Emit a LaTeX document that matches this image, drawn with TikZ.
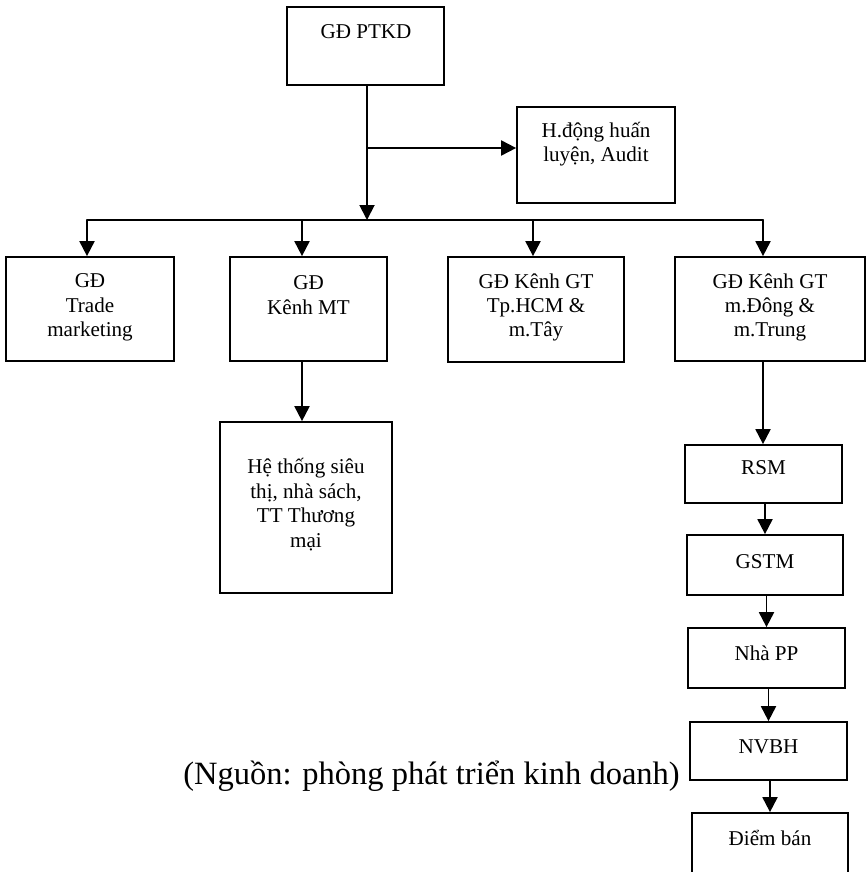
\documentclass[tikz,border=0pt]{standalone}
\usepackage{fontspec}
\setmainfont{Liberation Serif}
\usetikzlibrary{arrows.meta,positioning}
\tikzset{>={Triangle[length=3mm,width=3mm]}}

\begin{document}
\begin{tikzpicture}[x=0.02cm,y=-0.02cm,line cap=round,
  box/.style={draw,line width=1pt,inner sep=0pt},
  txt/.style={align=center,inner sep=0pt,font=\fontsize{12}{13.9}\selectfont},
  link/.style={->,line width=1.1pt}]

  \useasboundingbox (0,0) rectangle (866,872);
  \clip (0,0) rectangle (866,872);

  % top level
  \node [box,minimum width=3.14cm,minimum height=1.56cm] (ptkd) at (365.5,46) {};
  \node [txt] (ptkdT) at (366,32) {GĐ PTKD};

  \node [box,minimum width=3.16cm,minimum height=1.92cm] (hl) at (596,155) {};
  \node [txt] (hlT) at (596,144) {H.động huấn\\luyện, Audit};

  \coordinate (jA) at (367,220);
  \coordinate (jB) at (367,148);
  \draw [link] (ptkd.south -| jA) -- (jA);
  \draw [link] (jB) -- (jB -| hl.west);


  % second level
  \node [box,minimum width=3.36cm,minimum height=2.08cm] (trade) at (90,309) {};
  \node [txt] (tradeT) at (90,307.5) {GĐ\\Trade\\marketing};

  \node [box,minimum width=3.14cm,minimum height=2.08cm] (mt) at (308.5,309) {};
  \node [txt] (mtT) at (308.5,295) {GĐ\\Kênh MT};

  \node [box,minimum width=3.52cm,minimum height=2.1cm] (hcm) at (536,309.5) {};
  \node [txt] (hcmT) at (536,307.5) {GĐ Kênh GT\\Tp.HCM \&\\m.Tây};

  \node [box,minimum width=3.8cm,minimum height=2.08cm] (dong) at (770,309) {};
  \node [txt] (dongT) at (770,307.5) {GĐ Kênh GT\\m.Đông \&\\m.Trung};

  \coordinate (b1) at (87,220);
  \coordinate (b2) at (302,220);
  \coordinate (b3) at (533,220);
  \coordinate (b4) at (763,220);
  \draw [line width=1.1pt] (b1) -- (b4);
  \foreach \b/\n in {b1/trade,b2/mt,b3/hcm,b4/dong}
    \draw [link] (\b) -- (\b |- \n.north);


  % MT channel
  \node [box,minimum width=3.44cm,minimum height=3.42cm] (sieuthi) at (306,507.5) {};
  \node [txt] (sieuthiT) at (306,504.5) {Hệ thống siêu\\thị, nhà sách,\\TT Thương\\mại};
  \draw [link] (mt.south -| b2) -- (sieuthi.north -| b2);


  % GT channel
  \node [box,minimum width=3.14cm,minimum height=1.16cm] (rsm) at (763.5,474) {};
  \node [txt] (rsmT) at (763.5,468) {RSM};
  \node [box,minimum width=3.12cm,minimum height=1.2cm] (gstm) at (765,565) {};
  \node [txt] (gstmT) at (765,562) {GSTM};
  \node [box,minimum width=3.14cm,minimum height=1.2cm] (npp) at (766.5,658) {};
  \node [txt] (nppT) at (766.5,653) {Nhà PP};
  \node [box,minimum width=3.14cm,minimum height=1.16cm] (nvbh) at (768.5,751) {};
  \node [txt] (nvbhT) at (768.5,747) {NVBH};
  \node [box,minimum width=3.12cm,minimum height=1.74cm] (diem) at (770,856.5) {};
  \node [txt] (diemT) at (770,838) {Điểm bán};

  \draw [link] (dong.south -| b4) -- (rsm.north -| b4);
  \foreach \a/\c in {rsm/gstm,gstm/npp,npp/nvbh,nvbh/diem}
    \draw [link] (\a.south -| \c.north) -- (\c.north);


  \node [font=\fontsize{18.5}{22}\selectfont] (src) at (431.5,776)
    {(Nguồn: phòng phát triển kinh doanh)};

\end{tikzpicture}
\end{document}
